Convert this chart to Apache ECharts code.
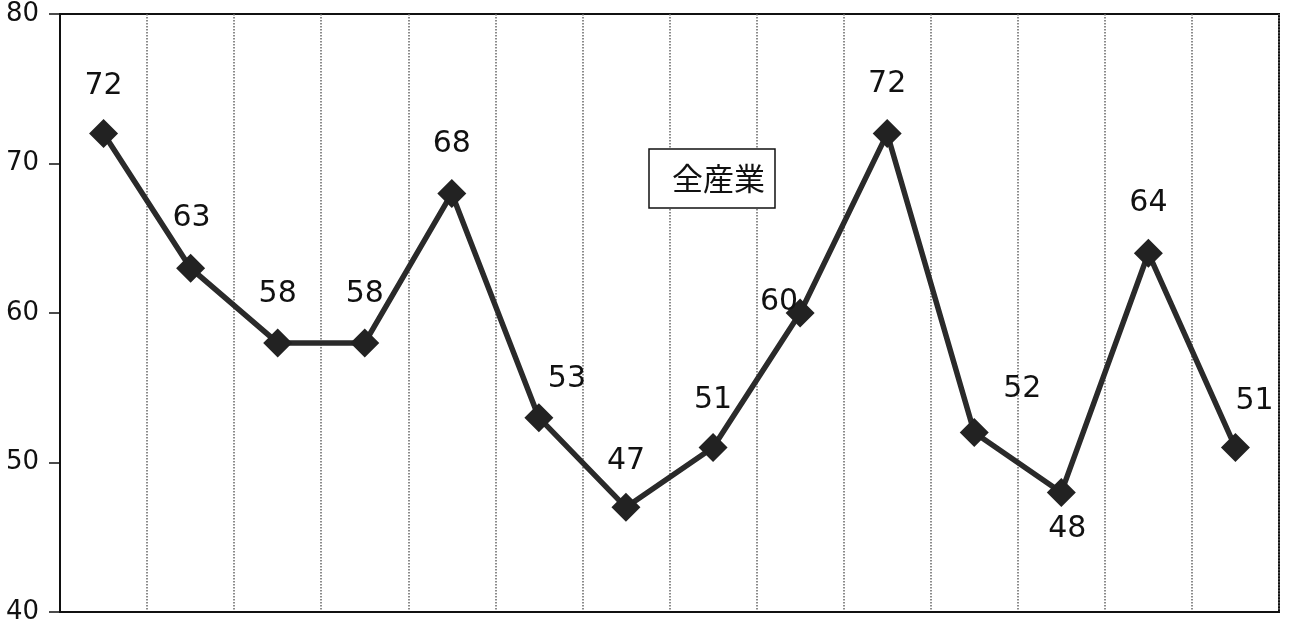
<!DOCTYPE html>
<html>
<head>
<meta charset="utf-8">
<script src="https://cdn.jsdelivr.net/npm/echarts@6/dist/echarts.min.js"></script>
<style>html,body{margin:0;padding:0;background:#fff}#c{width:1291px;height:630px}</style>
</head>
<body>
<div id="c"></div>
<script>
var categories = ['1','2','3','4','5','6','7','8','9','10','11','12','13','14'];
var seriesName = '全産業';
var values = [72, 63, 58, 58, 68, 53, 47, 51, 60, 72, 52, 48, 64, 51];
var yTicks = [40, 50, 60, 70, 80];

// label placement relative to each marker (layout only)
var labelShift = [[0,-47],[1,-50],[0,-49],[0,-49],[0,-49],[28,-38],[0,-46],[0,-47],[-21,-11],[0,-49],[48,-43],[6,37],[0,-50],[19,-46]];

var chart = echarts.init(document.getElementById('c'));
var data = values.map(function(v, i){
  return {value: v, label: {offset: labelShift[i]}};
});
chart.setOption({
  animation: false,
  backgroundColor: '#fff',
  grid: {left: 60, right: 12, top: 14, bottom: 18, show: true, borderColor: '#111', borderWidth: 2},
  legend: {
    left: 649, top: 149,
    data: [{name: seriesName, icon: 'none'}],
    itemWidth: 8, itemHeight: 8, itemGap: 0,
    padding: [14, 10, 14, 10],
    borderColor: '#111', borderWidth: 1.5, backgroundColor: '#fff',
    textStyle: {fontSize: 31, color: '#111', fontFamily: 'Noto Sans CJK JP'}
  },
  xAxis: {
    type: 'category', data: categories, boundaryGap: true,
    axisLine: {show: true, lineStyle: {color: '#111', width: 2}},
    axisTick: {show: false}, axisLabel: {show: false},
    splitLine: {show: true, lineStyle: {color: '#666', type: 'dotted', width: 1.5}}
  },
  yAxis: {
    type: 'value', min: yTicks[0], max: yTicks[yTicks.length-1], interval: 10,
    axisLine: {show: true, lineStyle: {color: '#111', width: 2}},
    axisTick: {show: true, length: 11, lineStyle: {color: '#111', width: 1.5}},
    axisLabel: {fontSize: 26, color: '#111', margin: 21, fontFamily: 'DejaVu Sans'},
    splitLine: {show: false}
  },
  series: [{
    name: seriesName, type: 'line', data: data,
    symbol: 'diamond', symbolSize: 29,
    itemStyle: {color: '#222'},
    lineStyle: {color: '#2a2a2a', width: 5.5},
    label: {show: true, position: 'inside', fontSize: 30, color: '#111', fontFamily: 'DejaVu Sans'}
  }]
});
</script>
</body>
</html>
